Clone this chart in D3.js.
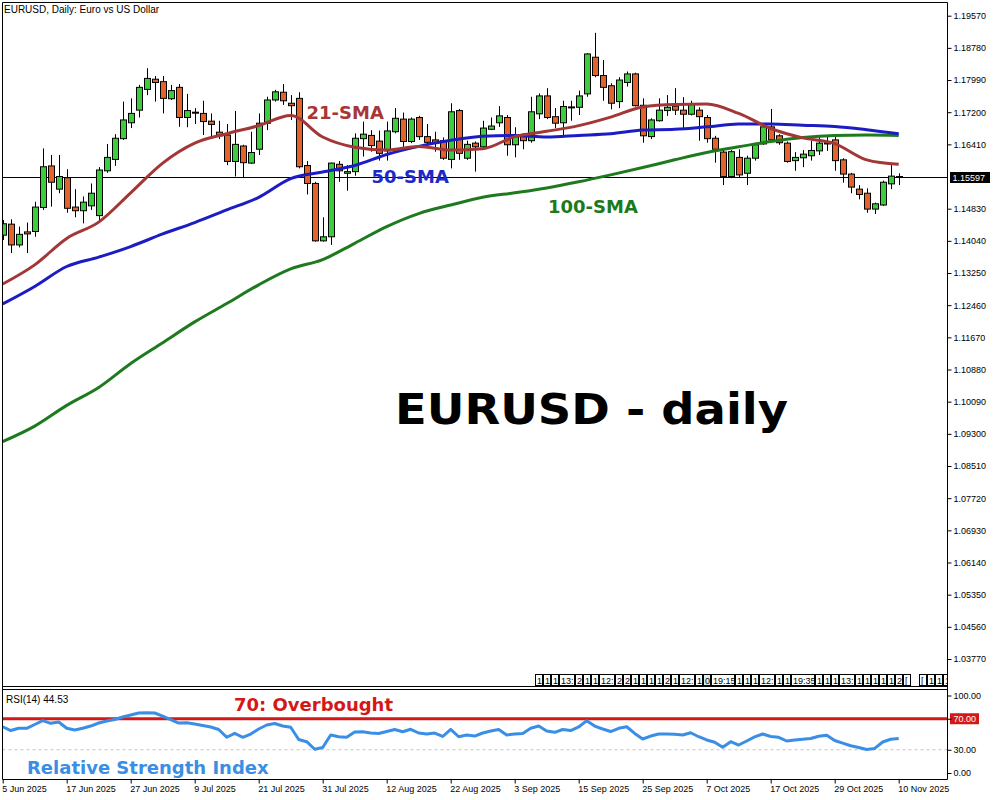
<!DOCTYPE html>
<html><head><meta charset="utf-8">
<script src="https://cdn.jsdelivr.net/npm/d3@7"></script>
<style>body{margin:0;background:#fff}svg{display:block}</style>
</head><body>
<svg id="c" width="1000" height="800"></svg>
<script>
// ---- data ----
const opens  = [1.1418,1.1445,1.1394,1.1426,1.1427,1.1486,1.1588,1.1531,1.1559,1.1487,
1.1478,1.1490,1.1466,1.1576,1.1604,1.1655,1.1694,1.1725,1.1776,1.1801,
1.1795,1.1753,1.1781,1.1707,1.1720,1.1717,1.1698,1.1671,1.1664,1.1599,
1.1637,1.1595,1.1629,1.1693,1.1750,1.1769,1.1742,1.1754,1.1589,1.1545,
1.1404,1.1414,1.1592,1.1570,1.1574,1.1655,1.1663,1.1649,1.1625,1.1672,
1.1703,1.1648,1.1707,1.1660,1.1652,1.1650,1.1604,1.1724,1.1607,1.1644,
1.1635,1.1678,1.1694,1.1707,1.1640,1.1660,1.1650,1.1716,1.1760,1.1709,
1.1694,1.1733,1.1732,1.1765,1.1855,1.1810,1.1785,1.1746,1.1793,1.1814,
1.1737,1.1660,1.1699,1.1724,1.1735,1.1725,1.1715,1.1725,1.1707,1.1656,
1.1622,1.1562,1.1609,1.1570,1.1607,1.1642,1.1684,1.1662,1.1644,1.1601,
1.1608,1.1613,1.1625,1.1645,1.1652,1.1603,1.1568,1.1531,1.1521,1.1482,
1.1492,1.1544,1.1562];
const highs  = [1.1455,1.1457,1.1439,1.1449,1.1500,1.1631,1.1615,1.1615,1.1580,1.1531,
1.1513,1.1545,1.1585,1.1642,1.1666,1.1746,1.1754,1.1787,1.1828,1.1809,
1.1809,1.1787,1.1789,1.1765,1.1730,1.1748,1.1717,1.1699,1.1691,1.1723,
1.1640,1.1672,1.1717,1.1758,1.1775,1.1789,1.1762,1.1769,1.1600,1.1549,
1.1462,1.1596,1.1600,1.1590,1.1668,1.1697,1.1676,1.1675,1.1697,1.1730,
1.1719,1.1707,1.1711,1.1691,1.1672,1.1658,1.1742,1.1728,1.1650,1.1648,
1.1699,1.1707,1.1735,1.1713,1.1683,1.1668,1.1758,1.1766,1.1779,1.1730,
1.1748,1.1748,1.1773,1.1865,1.1915,1.1848,1.1791,1.1806,1.1820,1.1817,
1.1754,1.1705,1.1754,1.1762,1.1779,1.1757,1.1748,1.1732,1.1713,1.1662,
1.1627,1.1627,1.1629,1.1613,1.1644,1.1689,1.1728,1.1666,1.1648,1.1622,
1.1627,1.1650,1.1662,1.1662,1.1662,1.1607,1.1571,1.1541,1.1533,1.1498,
1.1552,1.1590,1.1570];
const lows   = [1.1406,1.1374,1.1388,1.1374,1.1414,1.1480,1.1488,1.1521,1.1473,1.1462,
1.1447,1.1480,1.1455,1.1571,1.1588,1.1652,1.1681,1.1707,1.1762,1.1746,
1.1717,1.1750,1.1684,1.1683,1.1691,1.1664,1.1660,1.1654,1.1590,1.1562,
1.1558,1.1593,1.1615,1.1676,1.1746,1.1738,1.1701,1.1582,1.1518,1.1402,
1.1402,1.1394,1.1549,1.1527,1.1564,1.1611,1.1623,1.1601,1.1601,1.1668,
1.1635,1.1644,1.1652,1.1631,1.1623,1.1603,1.1582,1.1603,1.1603,1.1574,
1.1631,1.1676,1.1684,1.1613,1.1609,1.1629,1.1645,1.1703,1.1703,1.1681,
1.1662,1.1699,1.1713,1.1758,1.1806,1.1748,1.1727,1.1730,1.1783,1.1734,
1.1645,1.1654,1.1697,1.1711,1.1713,1.1681,1.1712,1.1650,1.1645,1.1596,
1.1541,1.1558,1.1558,1.1541,1.1601,1.1640,1.1648,1.1640,1.1596,1.1576,
1.1585,1.1601,1.1615,1.1625,1.1576,1.1547,1.1521,1.1506,1.1473,1.1470,
1.1490,1.1531,1.1541];
const closes = [1.1446,1.1394,1.1420,1.1421,1.1487,1.1586,1.1548,1.1562,1.1484,1.1478,
1.1499,1.1521,1.1578,1.1609,1.1656,1.1701,1.1717,1.1781,1.1803,1.1793,
1.1754,1.1773,1.1707,1.1724,1.1718,1.1697,1.1690,1.1662,1.1599,1.1641,
1.1596,1.1621,1.1693,1.1750,1.1770,1.1748,1.1736,1.1586,1.1545,1.1404,
1.1414,1.1595,1.1576,1.1574,1.1656,1.1666,1.1638,1.1619,1.1674,1.1705,
1.1648,1.1703,1.1660,1.1646,1.1644,1.1607,1.1721,1.1619,1.1641,1.1635,
1.1681,1.1686,1.1711,1.1640,1.1660,1.1650,1.1721,1.1760,1.1707,1.1693,
1.1734,1.1731,1.1760,1.1863,1.1810,1.1781,1.1742,1.1799,1.1814,1.1736,
1.1662,1.1701,1.1725,1.1732,1.1725,1.1715,1.1740,1.1709,1.1655,1.1629,
1.1562,1.1623,1.1566,1.1607,1.1640,1.1684,1.1652,1.1645,1.1599,1.1609,
1.1617,1.1626,1.1644,1.1642,1.1601,1.1568,1.1536,1.1518,1.1482,1.1495,
1.1548,1.1563,1.15597];

const smaIndex = [0,4,8,12,16,20,24,28,32,36,40,44,48,52,56,60,64,68,72,76,80,84,88,92,96,100,104,108,112];
const sma21  = [1.1298,1.1345,1.1410,1.1450,1.1522,1.1595,1.1644,1.1667,1.1687,1.1712,1.1659,1.1634,1.1627,1.1636,1.1627,1.1630,1.1660,1.1673,1.1687,1.1708,1.1733,1.1739,1.1740,1.1717,1.1680,1.1657,1.1643,1.1603,1.1592];
const sma50  = [1.1249,1.1292,1.1341,1.1364,1.1390,1.1421,1.1449,1.1480,1.1511,1.1557,1.1573,1.1589,1.1616,1.1636,1.1651,1.1661,1.1663,1.1659,1.1663,1.1667,1.1676,1.1678,1.1684,1.1691,1.1691,1.1688,1.1685,1.1677,1.1667];
const sma100 = [1.0911,1.0949,1.1000,1.1044,1.1103,1.1154,1.1205,1.1250,1.1296,1.1335,1.1358,1.1398,1.1439,1.1471,1.1492,1.1511,1.1522,1.1534,1.1549,1.1566,1.1584,1.1603,1.1621,1.1635,1.1648,1.1658,1.1663,1.1664,1.1663];

const rsi = [59.7,54.8,57.7,57.7,62.6,67.5,64.1,65.8,57.7,55.5,
57.7,60.6,64.5,67.1,69.0,72.3,74.8,77.4,77.8,77.4,
73.5,69.0,64.5,64.9,63.2,61.3,59.4,56.1,46.1,51.2,
46.1,50.3,56.8,61.9,63.9,60.6,59.0,43.2,40.4,30.6,
32.9,49.0,46.7,46.1,52.9,53.3,51.6,51.0,53.5,56.1,
53.3,56.4,51.6,50.3,51.6,47.1,56.4,46.8,49.0,47.7,
51.6,54.2,56.1,49.0,50.3,51.0,57.7,60.6,54.2,52.5,
56.1,54.8,59.4,67.5,60.6,56.8,53.5,57.7,59.7,51.0,
43.9,47.7,50.3,50.3,49.9,49.0,51.9,46.8,42.6,39.6,
33.2,40.4,36.1,41.3,46.5,50.3,47.1,46.1,41.3,42.6,
43.5,44.5,47.4,48.8,41.9,38.5,35.1,32.9,30.3,31.7,
40.0,43.5,44.53];

const priceTicks = [1.19570,1.18780,1.17990,1.17200,1.16410,1.14830,1.14040,1.13250,1.12460,1.11670,1.10880,1.10090,1.09300,1.08510,1.07720,1.06930,1.06140,1.05350,1.04560,1.03770];
const lastPrice = 1.15597;
const rsiTicks = [100,70,30,0];
const rsiLevels = [70,30];
const dateTickIndex = [0,8,16,24,32,40,48,56,64,72,80,88,96,104,112];
const dateTickLabels = ["5 Jun 2025","17 Jun 2025","27 Jun 2025","9 Jul 2025","21 Jul 2025","31 Jul 2025","12 Aug 2025","22 Aug 2025","3 Sep 2025","15 Sep 2025","25 Sep 2025","7 Oct 2025","17 Oct 2025","29 Oct 2025","10 Nov 2025"];
const boxLabels = ["1","1","1","13:","2","1","1","12:","2","2","1","1","1","1","2","1","12:","1","0","19:15","1","1","1","12:","1","1","19:35","1","1","1","13:","1","1","1","1","1","2","[","","[","1","1","1"];
const boxStartIndex = 67;

// ---- layout ----
const L = 2.5, R = 947.5, T = 2.5, MB = 686.5, RT = 689.5, RB = 779.5;
const svg = d3.select('#c');
const x = d3.scaleLinear().domain([0,112]).range([2.7,898.7]);
const y = d3.scaleLinear().domain([1.0377,1.1957]).range([659,15.7]);
const yr = d3.scaleLinear().domain([0,100]).range([773,695.5]);
const smallFont = "'Liberation Sans', Arial, sans-serif";
const boldFont = "'DejaVu Sans', Verdana, sans-serif";

const defs = svg.append('defs');
defs.append('clipPath').attr('id','mainClip').append('rect').attr('x',L+0.5).attr('y',T+0.5).attr('width',R-L-1).attr('height',MB-T-1);
defs.append('clipPath').attr('id','rsiClip').append('rect').attr('x',L+0.5).attr('y',RT+0.5).attr('width',R-L-1).attr('height',RB-RT-1);

const main = svg.append('g').attr('clip-path','url(#mainClip)');

// last price line
main.append('line').attr('x1',L).attr('x2',R).attr('y1',Math.round(y(lastPrice))+0.5).attr('y2',Math.round(y(lastPrice))+0.5).attr('stroke','#000').attr('stroke-width',1);

// candles
const idx = d3.range(opens.length);
const cg = main.append('g');
idx.forEach(i => {
  const cx = Math.round(x(i)) + 0.5;
  cg.append('line').attr('x1',cx).attr('x2',cx).attr('y1',y(highs[i])).attr('y2',y(lows[i])).attr('stroke','#000').attr('stroke-width',1);
  const up = closes[i] >= opens[i];
  const top = y(Math.max(opens[i],closes[i])), bot = y(Math.min(opens[i],closes[i]));
  const h = Math.max(1, bot-top);
  cg.append('rect').attr('x',cx-3).attr('y',top).attr('width',6).attr('height',h)
    .attr('fill', up ? '#3dcc3d' : '#e2642c').attr('stroke','#000').attr('stroke-width',1);
});

// SMAs
const smaLine = d3.line().x((d,k)=>x(smaIndex[k])).y(d=>y(d)).curve(d3.curveMonotoneX);
main.append('path').attr('d',smaLine(sma100)).attr('fill','none').attr('stroke','#1f7a1f').attr('stroke-width',3);
main.append('path').attr('d',smaLine(sma50)).attr('fill','none').attr('stroke','#1c1cc4').attr('stroke-width',3);
main.append('path').attr('d',smaLine(sma21)).attr('fill','none').attr('stroke','#a33636').attr('stroke-width',3);

// annotation row boxes
let slot = 0;
const bg = svg.append('g').attr('clip-path','url(#mainClip)');
boxLabels.forEach(lbl => {
  const n = lbl.length <= 1 ? 1 : (lbl.length <= 3 ? 2 : 3);
  const x0 = x(boxStartIndex + slot) - 4;
  if (lbl !== "") {
    bg.append('rect').attr('x',Math.round(x0)+0.5).attr('y',674.5).attr('width',8*n-1).attr('height',11)
      .attr('fill', lbl === '0' ? '#d8f0f0' : '#fff').attr('stroke','#000').attr('stroke-width',1);
    bg.append('text').attr('x',Math.round(x0)+2).attr('y',683.5).text(lbl)
      .attr('font-family',smallFont).attr('font-size',9).attr('fill','#000');
  }
  slot += n;
});

// labels in main
svg.append('text').attr('x',4).attr('y',12.5).text('EURUSD, Daily:  Euro vs US Dollar')
  .attr('font-family',smallFont).attr('font-size',10).attr('fill','#000');
svg.append('text').attr('x',306.5).attr('y',119.3).text('21-SMA').attr('font-family',boldFont).attr('font-weight','bold').attr('font-size',18).attr('fill','#a83636');
svg.append('text').attr('x',371.5).attr('y',182.7).text('50-SMA').attr('font-family',boldFont).attr('font-weight','bold').attr('font-size',18).attr('fill','#1c28c8');
svg.append('text').attr('x',548).attr('y',213.3).text('100-SMA').attr('font-family',boldFont).attr('font-weight','bold').attr('font-size',18).attr('fill','#1c7a1c');
svg.append('text').attr('x',395).attr('y',424).text('EURUSD - daily').attr('font-family',boldFont).attr('font-weight','bold').attr('font-size',42)
  .attr('textLength',393).attr('lengthAdjust','spacingAndGlyphs').attr('fill','#000');

// RSI panel
const rg = svg.append('g').attr('clip-path','url(#rsiClip)');
rg.append('line').attr('x1',L).attr('x2',R).attr('y1',yr(30)).attr('y2',yr(30)).attr('stroke','#c4c4c4').attr('stroke-width',1).attr('stroke-dasharray','3,3');
rg.append('line').attr('x1',L).attr('x2',R).attr('y1',yr(70)).attr('y2',yr(70)).attr('stroke','#d41818').attr('stroke-width',3);
const rsiLine = d3.line().x((d,i)=>x(i)).y(d=>yr(d));
rg.append('path').attr('d',rsiLine(rsi)).attr('fill','none').attr('stroke','#3a8ee6').attr('stroke-width',3).attr('stroke-linejoin','round');

svg.append('text').attr('x',6).attr('y',703).text('RSI(14) 44.53').attr('font-family',smallFont).attr('font-size',10).attr('fill','#000');
svg.append('text').attr('x',234).attr('y',711).text('70: Overbought').attr('font-family',boldFont).attr('font-weight','bold').attr('font-size',18).attr('fill','#d41818');
svg.append('text').attr('x',27).attr('y',774).text('Relative Strength Index').attr('font-family',boldFont).attr('font-weight','bold').attr('font-size',18).attr('fill','#3a8ee6');

// frames
const fr = svg.append('g').attr('stroke','#000').attr('stroke-width',1).attr('fill','none');
fr.append('path').attr('d',`M${L},${T}H${R}M${L},${T}V${RB}M${R},${T}V${RB}M${L},${MB}H${R}M${L},${RT}H${R}M${L},${RB}H${R}`);

// right price axis
svg.append('rect').attr('x',950).attr('y',Math.round(y(lastPrice))-5).attr('width',40).attr('height',11).attr('fill','#000');
const pa = svg.append('g').attr('transform',`translate(${R},0)`)
  .call(d3.axisRight(y).tickValues(priceTicks).tickSize(4).tickPadding(2).tickFormat(d3.format('.5f')));
pa.select('.domain').remove();
pa.selectAll('text').attr('font-family',smallFont).attr('font-size',9).attr('fill','#000');
const lp = svg.append('g').attr('transform',`translate(${R},0)`)
  .call(d3.axisRight(y).tickValues([lastPrice]).tickSize(0).tickPadding(5).tickFormat(d3.format('.5f')));
lp.select('.domain').remove();
lp.selectAll('text').attr('font-family',smallFont).attr('font-size',9).attr('fill','#fff');

// RSI axis
svg.append('rect').attr('x',950).attr('y',yr(70)-5.5).attr('width',29).attr('height',11).attr('fill','#d41818');
const ra = svg.append('g').attr('transform',`translate(${R},0)`)
  .call(d3.axisRight(yr).tickValues(rsiTicks).tickSize(4).tickPadding(2).tickFormat(d3.format('.2f')));
ra.select('.domain').remove();
ra.selectAll('text').attr('font-family',smallFont).attr('font-size',9).attr('fill',d => d===70 ? '#fff' : '#000');

// date axis
const xa = svg.append('g').attr('transform',`translate(0,${RB})`)
  .call(d3.axisBottom(x).tickValues(dateTickIndex).tickSize(4).tickPadding(2).tickFormat((d,i)=>dateTickLabels[i]));
xa.select('.domain').remove();
xa.selectAll('text').attr('font-family',smallFont).attr('font-size',9).attr('fill','#000').attr('text-anchor','start').attr('dx',-1);
</script>
</body></html>
